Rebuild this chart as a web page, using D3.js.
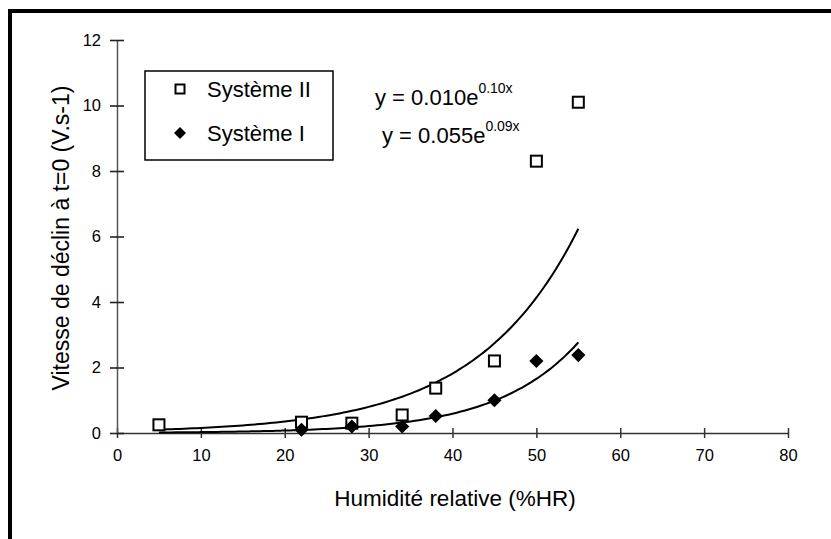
<!DOCTYPE html>
<html>
<head>
<meta charset="utf-8">
<script src="https://cdn.jsdelivr.net/npm/d3@7"></script>
<style>
  html, body { margin: 0; padding: 0; background: #fff; }
  svg { display: block; }
  text { font-family: "Liberation Sans", Arial, Helvetica, sans-serif; fill: #000; }
</style>
</head>
<body>
<svg id="chart" width="831" height="539"></svg>
<script>
// ---- data ----
const seriesNames = ["Système II", "Système I"];
const xSysII = [5, 22, 28, 34, 38, 45, 50, 55];
const ySysII = [0.25, 0.33, 0.3, 0.55, 1.37, 2.2, 8.3, 10.1];
const xSysI = [22, 28, 34, 38, 45, 50, 55];
const ySysI = [0.1, 0.2, 0.2, 0.52, 1.0, 2.2, 2.38];
const trendRange = [5, 55];
const equations = [
  { base: "y = 0.010e", exp: "0.10x" },
  { base: "y = 0.055e", exp: "0.09x" }
];
const xTicks = [0, 10, 20, 30, 40, 50, 60, 70, 80];
const yTicks = [0, 2, 4, 6, 8, 10, 12];
const xTitle = "Humidité relative (%HR)";
const yTitle = "Vitesse de déclin à t=0 (V.s-1)";

// ---- layout ----
const svg = d3.select("#chart");
const x = d3.scaleLinear().domain([0, 80]).range([117, 788]);
const y = d3.scaleLinear().domain([0, 12]).range([433, 40]);

// frame
svg.append("path")
  .attr("d", "M10,539 V11 H831")
  .attr("fill", "none").attr("stroke", "#000").attr("stroke-width", 4);

// axes
const xAxis = svg.append("g").attr("transform", `translate(0,${y(0)})`)
  .call(d3.axisBottom(x).tickValues(xTicks).tickSize(0).tickPadding(16).tickFormat(d3.format("d")));
xAxis.select(".domain").attr("stroke", "#333").attr("stroke-width", 1.6);
xAxis.selectAll(".tick").append("line").attr("y1", -5).attr("y2", 5).attr("stroke", "#333").attr("stroke-width", 1.5);
xAxis.selectAll("text").attr("font-size", 16.5).attr("dy", "0.71em");

const yAxis = svg.append("g").attr("transform", `translate(${x(0)},0)`)
  .call(d3.axisLeft(y).tickValues(yTicks).tickSize(0).tickPadding(16).tickFormat(d3.format("d")));
yAxis.select(".domain").attr("stroke", "#555").attr("stroke-width", 1.5);
yAxis.selectAll(".tick").append("line").attr("x1", -7).attr("x2", 7).attr("stroke", "#222").attr("stroke-width", 1.6);
yAxis.selectAll("text").attr("font-size", 16.5);

// axis titles
svg.append("text").attr("x", 455).attr("y", 506).attr("text-anchor", "middle")
  .attr("font-size", 22.5).text(xTitle);
svg.append("text").attr("transform", "translate(69,238) rotate(-90)").attr("text-anchor", "middle")
  .attr("font-size", 23).text(yTitle);

// trend lines (exponential least squares on ln y)
function expFit(xs, ys) {
  const ly = ys.map(Math.log);
  const mx = d3.mean(xs), my = d3.mean(ly);
  const sxy = d3.sum(xs, (v, i) => (v - mx) * (ly[i] - my));
  const sxx = d3.sum(xs, v => (v - mx) * (v - mx));
  const b = sxy / sxx;
  const a = Math.exp(my - b * mx);
  return v => a * Math.exp(b * v);
}
const fits = [expFit(xSysII, ySysII), expFit(xSysI, ySysI)];
const xs = d3.range(trendRange[0], trendRange[1] + 0.001, 0.5);
const line = d3.line().x(d => x(d[0])).y(d => y(d[1])).curve(d3.curveMonotoneX);
fits.forEach(f => {
  svg.append("path").datum(xs.map(v => [v, f(v)]))
    .attr("d", line).attr("fill", "none").attr("stroke", "#000").attr("stroke-width", 2);
});

// markers
const sq = 11;
svg.append("g").selectAll("rect").data(xSysII.map((v, i) => [v, ySysII[i]])).join("rect")
  .attr("x", d => x(d[0]) - sq / 2).attr("y", d => y(d[1]) - sq / 2)
  .attr("width", sq).attr("height", sq)
  .attr("fill", "#fff").attr("stroke", "#000").attr("stroke-width", 2);
const diamond = d3.symbol().type(d3.symbolSquare).size(100);
svg.append("g").selectAll("path").data(xSysI.map((v, i) => [v, ySysI[i]])).join("path")
  .attr("d", diamond).attr("transform", d => `translate(${x(d[0])},${y(d[1])}) rotate(45)`)
  .attr("fill", "#000");

// legend
svg.append("rect").attr("x", 145).attr("y", 71).attr("width", 188).attr("height", 89)
  .attr("fill", "#fff").attr("stroke", "#000").attr("stroke-width", 1.5);
svg.append("rect").attr("x", 180 - 4.5).attr("y", 89 - 4.5).attr("width", 9).attr("height", 9)
  .attr("fill", "#fff").attr("stroke", "#000").attr("stroke-width", 2);
svg.append("path").attr("d", d3.symbol().type(d3.symbolSquare).size(72))
  .attr("transform", "translate(180,133) rotate(45)").attr("fill", "#000");
svg.append("text").attr("x", 207).attr("y", 97).attr("font-size", 22).text(seriesNames[0]);
svg.append("text").attr("x", 207).attr("y", 141).attr("font-size", 22).text(seriesNames[1]);

// equations
const eqPos = [[375, 105], [382, 143]];
equations.forEach((e, i) => {
  const t = svg.append("text").attr("x", eqPos[i][0]).attr("y", eqPos[i][1]).attr("font-size", 22);
  t.append("tspan").text(e.base);
  t.append("tspan").attr("font-size", 14).attr("dy", -12).text(e.exp);
});
</script>
</body>
</html>
